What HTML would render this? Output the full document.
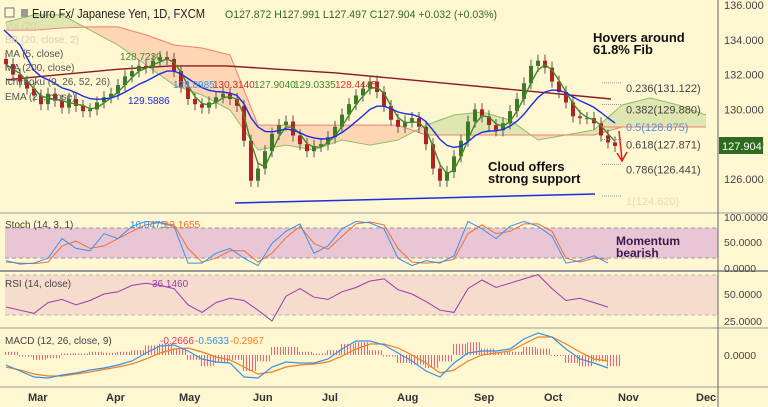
<!DOCTYPE html>
<html><head><meta charset="utf-8"><style>
html,body{margin:0;padding:0;background:#fff6d2;}
svg{display:block;font-family:"Liberation Sans",sans-serif;}
</style></head><body>
<svg id="c" width="768" height="407" viewBox="0 0 768 407"></svg>
<script>
const closes=[132.6,132.0,131.6,131.2,130.8,130.3,130.9,130.5,130.1,130.6,130.2,129.9,130.0,130.4,130.7,130.9,131.4,131.9,132.2,132.5,132.4,132.8,133.0,132.9,132.2,131.3,130.6,130.3,130.1,130.4,130.7,130.9,130.6,130.2,128.2,125.9,126.6,127.6,128.6,129.1,129.3,128.5,128.0,127.6,127.9,128.0,128.4,129.0,129.7,130.3,130.8,131.2,131.6,131.0,130.2,129.4,129.0,129.3,129.5,129.0,128.0,126.6,125.9,126.4,127.3,128.2,129.3,130.0,129.6,129.1,128.8,129.2,129.9,130.6,131.5,132.5,132.8,132.4,131.6,131.0,130.4,129.6,129.5,129.5,129.2,128.5,128.1,127.9];
const ma200=[131.7,132.0,132.3,132.5,132.5,132.3,132.1,131.8,131.5,131.2,130.9,130.6];
const spanA=[135.02,135.43,135.43,134.56,133.70,132.55,131.40,130.83,129.97,127.67,127.95,127.67,128.24,127.95,128.24,129.10,129.68,129.85,129.39,128.24,128.53,128.82,130.25,130.66,130.25,129.68];
const spanB=[134.56,134.56,134.68,134.74,134.74,134.28,133.70,133.53,133.13,129.10,129.10,129.10,129.10,129.10,129.10,128.53,128.53,128.53,128.53,128.53,128.53,128.53,128.99,128.99,128.99,128.99];
const stochK=[15,8,10,20,60,40,35,70,60,85,95,92,85,10,10,30,40,20,5,50,75,90,30,45,80,95,92,80,20,5,15,10,25,95,80,60,85,95,85,65,10,15,25,10];
const stochD=[12,10,9,12,45,55,40,45,60,75,88,93,88,40,12,20,35,35,12,30,62,85,50,38,65,90,94,88,40,12,10,12,18,70,88,70,75,90,90,75,20,12,20,18];
const rsi=[38,35,32,42,45,40,44,50,52,58,60,58,55,40,33,42,46,44,35,25,48,55,47,45,52,56,62,64,54,50,43,35,33,55,63,56,60,64,68,55,44,46,42,38];
const macd=[-0.5,-0.8,-1.1,-1.15,-1.0,-0.9,-0.75,-0.65,-0.5,-0.3,0.1,0.45,0.5,0.2,-0.2,-0.35,-0.4,-1.1,-1.15,-0.6,-0.35,-0.4,-0.4,-0.2,0.3,0.7,0.7,0.5,0.1,-0.3,-0.8,-1.1,-0.4,0.1,0.2,0.2,0.3,0.8,1.1,0.9,0.3,-0.2,-0.4,-0.65];
const signal=[-0.6,-0.75,-0.95,-1.05,-1.05,-0.95,-0.85,-0.72,-0.6,-0.45,-0.2,0.1,0.3,0.35,0.15,-0.1,-0.25,-0.6,-0.95,-0.85,-0.6,-0.5,-0.45,-0.35,-0.05,0.3,0.55,0.55,0.35,0.0,-0.4,-0.9,-0.75,-0.3,0.0,0.1,0.2,0.55,0.9,0.9,0.55,0.15,-0.2,-0.3];
const priceTicks=[136,134,132,130,128,126];
const months=["Mar","Apr","May","Jun","Jul","Aug","Sep","Oct","Nov","Dec"];
const monthX=[37,115,188,262,331,406,483,553,627,705];
const fibs=[[0.236,131.122],[0.382,129.880],[0.5,128.875],[0.618,127.871],[0.786,126.441],[1,124.620]];

const S=document.getElementById('c');const NS='http://www.w3.org/2000/svg';
function el(t,a,txt){const e=document.createElementNS(NS,t);for(const k in a)e.setAttribute(k,a[k]);if(txt!==undefined)e.textContent=txt;S.appendChild(e);return e;}
const py=p=>5+(136-p)*17.4;
const cx=i=>6+i*7;
const ix=i=>6+i*14;
const cloudX=i=>6+i*28;
const sy=v=>268-v*0.49;
const ry=v=>294-(v-50)*1.08;
const my=v=>355-v*20;
function pathOf(arr,fx,fy){return arr.map((v,i)=>(i?'L':'M')+fx(i).toFixed(1)+' '+fy(v).toFixed(1)).join(' ');}

let e;
e=el('rect',{x:5,y:228,width:713,height:30,fill:'#e9c6d6'});
e=el('rect',{x:5,y:275,width:713,height:40,fill:'#f6dccc'});
[228,258].forEach(y=>{el('line',{x1:5,x2:718,y1:y,y2:y,stroke:'#999',"stroke-dasharray":'4,3','stroke-width':1});});
[275,315].forEach(y=>{el('line',{x1:5,x2:718,y1:y,y2:y,stroke:'#bbb',"stroke-dasharray":'4,3','stroke-width':1});});
[213,271,328,387].forEach(y=>{el('line',{x1:0,x2:768,y1:y,y2:y,stroke:'#999','stroke-width':y==271?2:1});});
e=el('line',{x1:718,x2:718,y1:0,y2:407,stroke:'#666'});

for(let i=0;i<spanA.length-1;i++){
  const x1=cloudX(i),x2=cloudX(i+1);
  const up=(spanA[i]+spanA[i+1])>=(spanB[i]+spanB[i+1]);
  e=el('polygon',{points:`${x1},${py(spanA[i])} ${x2},${py(spanA[i+1])} ${x2},${py(spanB[i+1])} ${x1},${py(spanB[i])}`,fill:up?'rgba(140,190,90,0.28)':'rgba(255,140,110,0.3)'});
  
}
e=el('path',{d:pathOf(spanA,cloudX,py),fill:'none',stroke:'#8bc06a','stroke-width':1});
e=el('path',{d:pathOf(spanB,cloudX,py),fill:'none',stroke:'#f08070','stroke-width':1});

e=el('path',{d:pathOf(ma200,i=>6+i*55,py),fill:'none',stroke:'#8b1a1a','stroke-width':1.4});

closes.forEach((c,i)=>{
  const o=i?closes[i-1]:c+0.3;const up=c>=o;
  const hi=Math.max(o,c)+0.35,lo=Math.min(o,c)-0.35;
  const col=up?'#3c7a28':'#b22222';
  const x=cx(i);
  let w=el('line',{x1:x,x2:x,y1:py(hi),y2:py(lo),stroke:'#555','stroke-width':1});
  
  let b=el('rect',{x:x-2,y:py(Math.max(o,c)),width:4,height:Math.max(1,Math.abs(py(o)-py(c))),fill:col});
  
});
const ma5=closes.map((c,i)=>{const s=closes.slice(Math.max(0,i-2),i+1);return s.reduce((a,b)=>a+b,0)/s.length;});
let ema=[];closes.forEach((c,i)=>{ema.push(i?ema[i-1]+(c-ema[i-1])*2/11:c+0.8);});
e=el('path',{d:pathOf(ma5,cx,py),fill:'none',stroke:'#3f8a2a','stroke-width':1.4});
e=el('path',{d:'M4 30 L20 45 '+pathOf(ema.slice(4),i=>cx(i+4),py).replace('M','L'),fill:'none',stroke:'#1a2ee0','stroke-width':1.4});

e=el('line',{x1:235,y1:203,x2:595,y2:194,stroke:'#1a2ee0','stroke-width':1.5});

fibs.forEach((f,k)=>{
  if(f[0]==0.5){e=el('line',{x1:602,x2:700,y1:py(f[1])-2,y2:py(f[1])-2,stroke:'#f08070'});}
  else {e=el('line',{x1:602,x2:622,y1:py(f[1])-7,y2:py(f[1])-7,stroke:'#999','stroke-dasharray':'1,1'});}
  
  e=el('text',{x:626,y:py(f[1])+2,'font-size':11,fill:f[0]==0.5?'#5a8ee0':(f[0]==1?'#e8dcb0':'#444')},f[0]+'('+f[1].toFixed(3)+')');
  
});
e=el('path',{d:'M619 131 L622 160 M617 153 L622 161 L627 152',fill:'none',stroke:'#e02020','stroke-width':1.5});

priceTicks.forEach(p=>{e=el('text',{x:724,y:py(p)+4,'font-size':11,fill:'#444'},p.toFixed(3));});
e=el('rect',{x:719,y:137,width:44,height:17,fill:'#2e6b1e'});
e=el('text',{x:722,y:150,'font-size':11,fill:'#fff'},'127.904');

function tx(x,y,s,t,a){const e=el('text',Object.assign({x:x,y:y,'font-size':s},a||{}),t);return e;}
e=tx(593,42,13,'Hovers around',{fill:'#111','font-weight':'bold'});
e=tx(593,54,13,'61.8% Fib',{fill:'#111','font-weight':'bold'});
e=tx(488,171,13,'Cloud offers',{fill:'#111','font-weight':'bold'});
e=tx(488,183,13,'strong support',{fill:'#111','font-weight':'bold'});
e=tx(616,245,12,'Momentum',{fill:'#3a1a4a','font-weight':'bold'});
e=tx(616,257,12,'bearish',{fill:'#3a1a4a','font-weight':'bold'});

e=el('rect',{x:5,y:8,width:9,height:9,fill:'none',stroke:'#777'});
e=el('rect',{x:21,y:9,width:7,height:8,fill:'#999'});
e=tx(32,18,12.5,'Euro Fx/ Japanese Yen, 1D, FXCM',{fill:'#222',textLength:173,lengthAdjust:'spacingAndGlyphs'});
e=tx(225,18,11,'O127.872  H127.991  L127.497  C127.904  +0.032 (+0.03%)',{fill:'#2e6b1e','xml:space':'preserve',textLength:272,lengthAdjust:'spacingAndGlyphs'});
const leg=[['Vol (20)',29,'#d8cfae'],['BB (20, close, 2)',43,'#d8cfae'],['MA (5, close)',57,'#555'],['MA (200, close)',71,'#555'],['Ichimoku (9, 26, 52, 26)',85,'#555'],['EMA (21, close)',100,'#555']];
leg.forEach(l=>{e=tx(5,l[1],10,l[0],{fill:l[2]});});
e=tx(120,60,10,'128.7230',{fill:'#3f8a2a'});
e=tx(128,104,10,'129.5886',{fill:'#1a2ee0'});
[['128.8985',173,'#3a8ee0'],['130.3140',213,'#c03030'],['127.9040',254,'#3f8a2a'],['129.0335',294,'#3f8a2a'],['128.4445',335,'#e03030']].forEach(v=>{e=tx(v[1],88,10,v[0],{fill:v[2]});});

e=el('path',{d:pathOf(stochD,ix,sy),fill:'none',stroke:'#f07030','stroke-width':1});
e=el('path',{d:pathOf(stochK,ix,sy),fill:'none',stroke:'#3a90e8','stroke-width':1});
e=tx(5,228,10,'Stoch (14, 3, 1)',{fill:'#444'});
e=tx(130,228,10,'10.0475',{fill:'#3a90e8'});
e=tx(164,228,10,'12.1655',{fill:'#f07030'});
[[100,221],[50,246],[0,272]].forEach(t=>{e=tx(724,t[1],10.5,t[0].toFixed(4),{fill:'#444'});});

e=el('path',{d:pathOf(rsi,ix,ry),fill:'none',stroke:'#9a3ab0','stroke-width':1});
e=tx(5,287,10,'RSI (14, close)',{fill:'#444'});
e=tx(152,287,10,'36.1460',{fill:'#9a3ab0'});
[[50,298],[25,325]].forEach(t=>{e=tx(724,t[1],10.5,t[0].toFixed(4),{fill:'#444'});});

macd.forEach((m,i)=>{const h=(m-signal[i])*1.6;const y0=my(0),y1=my(h);
  for(let d=0;d<14;d+=3){const r=el('rect',{x:ix(i)+d-1,y:Math.min(y0,y1),width:1,height:Math.max(1,Math.abs(y1-y0)),fill:'#f06080'});
  }
});
e=el('path',{d:pathOf(signal,ix,my),fill:'none',stroke:'#f08020','stroke-width':1.2});
e=el('path',{d:pathOf(macd,ix,my),fill:'none',stroke:'#3a90e8','stroke-width':1.2});
e=tx(5,344,10,'MACD (12, 26, close, 9)',{fill:'#444'});
e=tx(160,344,10,'-0.2666',{fill:'#f03060'});
e=tx(195,344,10,'-0.5633',{fill:'#3a90e8'});
e=tx(230,344,10,'-0.2967',{fill:'#f08020'});
e=tx(724,359,10.5,'0.0000',{fill:'#444'});

months.forEach((m,i)=>{e=tx(monthX[i]-9,401,11,m,{fill:'#333','font-weight':'bold'});});
</script>
</body></html>
